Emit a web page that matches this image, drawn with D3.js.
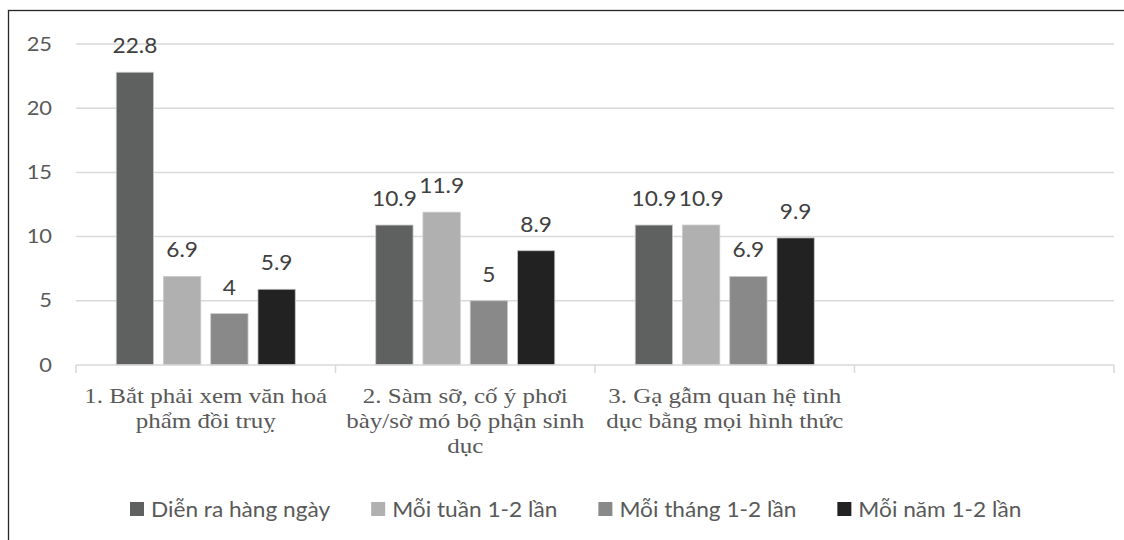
<!DOCTYPE html>
<html>
<head>
<meta charset="utf-8">
<script src="https://cdn.jsdelivr.net/npm/d3@7"></script>
<style>
    body { margin: 0; background: #fff; }
</style>
</head>
<body>
<div id="chart"></div>
<script>
// categories (x axis), the 4th slot is left empty in the original
const categories = [
    ["1. Bắt phải xem văn hoá", "phẩm đồi truỵ"],
    ["2. Sàm sỡ, cố ý phơi", "bày/sờ mó bộ phận sinh", "dục"],
    ["3. Gạ gẫm quan hệ tình", "dục bằng mọi hình thức"],
    []
];
const seriesNames = ["Diễn ra hàng ngày", "Mỗi tuần 1-2 lần", "Mỗi tháng 1-2 lần", "Mỗi năm 1-2 lần"];
const dailyValues = [22.8, 10.9, 10.9];
const weeklyValues = [6.9, 11.9, 10.9];
const monthlyValues = [4, 5, 6.9];
const yearlyValues = [5.9, 8.9, 9.9];
const yTicks = [0, 5, 10, 15, 20, 25];
const seriesColors = ["#5f6160", "#b0b0b0", "#898989", "#222222"];

const sansFont = "Lato, 'Open Sans', sans-serif";
const serifFont = "'Liberation Serif', 'Times New Roman', serif";

class Groupedbarchart {
    constructor(_config) {
        this.config = {
            parentElement: _config.parentElement,
            containerWidth: _config.containerWidth,
            containerHeight: _config.containerHeight,
            margin: _config.margin
        };
        this.initVis();
    }

    initVis() {
        let vis = this;
        let m = vis.config.margin;

        vis.width = vis.config.containerWidth - m.left - m.right;
        vis.height = vis.config.containerHeight - m.top - m.bottom;

        vis.svg = d3.select(vis.config.parentElement).append("svg")
            .attr("width", vis.config.containerWidth)
            .attr("height", vis.config.containerHeight);

        // outer frame (only left and top edges are inside the picture)
        vis.svg.append("rect")
            .attr("x", 8.5)
            .attr("y", 10.5)
            .attr("width", 1130)
            .attr("height", 540)
            .attr("fill", "none")
            .attr("stroke", "#262626")
            .attr("stroke-width", 1.3);

        vis.chart = vis.svg.append("g")
            .attr("transform", `translate(${m.left},${m.top})`);

        vis.xScale0 = d3.scaleBand()
            .domain(d3.range(categories.length))
            .range([0, vis.width]);

        vis.xScale1 = d3.scaleBand()
            .domain(seriesNames)
            .range([vis.xScale0.bandwidth() * 0.155, vis.xScale0.bandwidth() * 0.845])
            .paddingInner(0.21);

        vis.yScale = d3.scaleLinear()
            .domain([0, 25])
            .range([vis.height, 0]);

        vis.updateVis();
    }

    updateVis() {
        let vis = this;

        // one row per category
        vis.data = categories.map((c, i) => ({
            index: i,
            lines: c,
            values: [dailyValues[i], weeklyValues[i], monthlyValues[i], yearlyValues[i]]
        }));

        vis.renderVis();
    }

    renderVis() {
        let vis = this;

        // gridlines
        vis.chart.append("g")
            .selectAll("line")
            .data(yTicks.filter(d => d > 0))
            .join("line")
            .attr("x1", 0)
            .attr("x2", vis.width)
            .attr("y1", d => vis.yScale(d))
            .attr("y2", d => vis.yScale(d))
            .attr("stroke", "#d9d9d9")
            .attr("stroke-width", 1.5);

        // y axis labels (text in the original is a bit stretched sideways)
        vis.chart.append("g")
            .selectAll("text")
            .data(yTicks)
            .join("text")
            .attr("transform", d => `translate(-24,${vis.yScale(d)}) scale(1.15,1)`)
            .attr("dy", "0.35em")
            .attr("text-anchor", "end")
            .attr("fill", "#595959")
            .style("font-family", sansFont)
            .style("font-size", "19px")
            .text(d => d);

        // bars
        vis.groups = vis.chart.selectAll(".cat")
            .data(vis.data.filter(d => d.values[0] !== undefined))
            .join("g")
            .attr("class", "cat")
            .attr("transform", d => `translate(${vis.xScale0(d.index)},0)`);

        vis.groups.selectAll("rect")
            .data(d => d.values.map((v, j) => ({ key: seriesNames[j], value: v, color: seriesColors[j] })))
            .join("rect")
            .attr("x", d => vis.xScale1(d.key))
            .attr("y", d => vis.yScale(d.value))
            .attr("width", vis.xScale1.bandwidth())
            .attr("height", d => vis.height - vis.yScale(d.value))
            .attr("fill", d => d.color)
            .attr("stroke", "#c8c8c8")
            .attr("stroke-width", 0.8);

        // value labels
        vis.groups.selectAll(".val")
            .data(d => d.values.map((v, j) => ({ key: seriesNames[j], value: v })))
            .join("text")
            .attr("class", "val")
            .attr("transform", d => `translate(${vis.xScale1(d.key) + vis.xScale1.bandwidth() / 2},${vis.yScale(d.value) - 19}) scale(1.08,1)`)
            .attr("text-anchor", "middle")
            .attr("fill", "#404040")
            .style("font-family", sansFont)
            .style("font-size", "21px")
            .text(d => d.value);

        // x axis line and ticks
        let axis = vis.chart.append("g")
            .attr("transform", `translate(0,${vis.height})`);
        axis.append("line")
            .attr("x1", 0)
            .attr("x2", vis.width)
            .attr("stroke", "#d9d9d9")
            .attr("stroke-width", 1.5);
        axis.selectAll(".tick")
            .data(d3.range(categories.length + 1))
            .join("line")
            .attr("class", "tick")
            .attr("x1", d => d * vis.xScale0.step())
            .attr("x2", d => d * vis.xScale0.step())
            .attr("y1", 0)
            .attr("y2", 8)
            .attr("stroke", "#d9d9d9")
            .attr("stroke-width", 1.5);

        // category labels
        let labels = axis.selectAll(".cat-label")
            .data(vis.data)
            .join("text")
            .attr("class", "cat-label")
            .attr("transform", d => `translate(${vis.xScale0(d.index) + vis.xScale0.bandwidth() / 2},38) scale(1.19,1)`)
            .attr("text-anchor", "middle")
            .attr("fill", "#595959")
            .style("font-family", serifFont)
            .style("font-size", "21px");
        labels.selectAll("tspan")
            .data(d => d.lines)
            .join("tspan")
            .attr("x", 0)
            .attr("dy", (d, i) => i === 0 ? 0 : 25)
            .text(d => d);

        // legend
        let legend = vis.svg.append("g")
            .attr("class", "legend");
        let lx = 130;
        seriesNames.forEach((name, i) => {
            legend.append("rect")
                .attr("x", lx)
                .attr("y", 502)
                .attr("width", 14)
                .attr("height", 14)
                .attr("fill", seriesColors[i]);
            let t = legend.append("text")
                .attr("transform", `translate(${lx + 21},516.5) scale(1.03,1)`)
                .attr("fill", "#595959")
                .style("font-family", sansFont)
                .style("font-size", "22px")
                .text(name);
            lx += 21 + t.node().getComputedTextLength() * 1.03 + 41;
        });
    }
}

let chart = new Groupedbarchart({
    parentElement: "#chart",
    containerWidth: 1124,
    containerHeight: 540,
    margin: { top: 44, right: 10, bottom: 175, left: 76 }
});
</script>
</body>
</html>
